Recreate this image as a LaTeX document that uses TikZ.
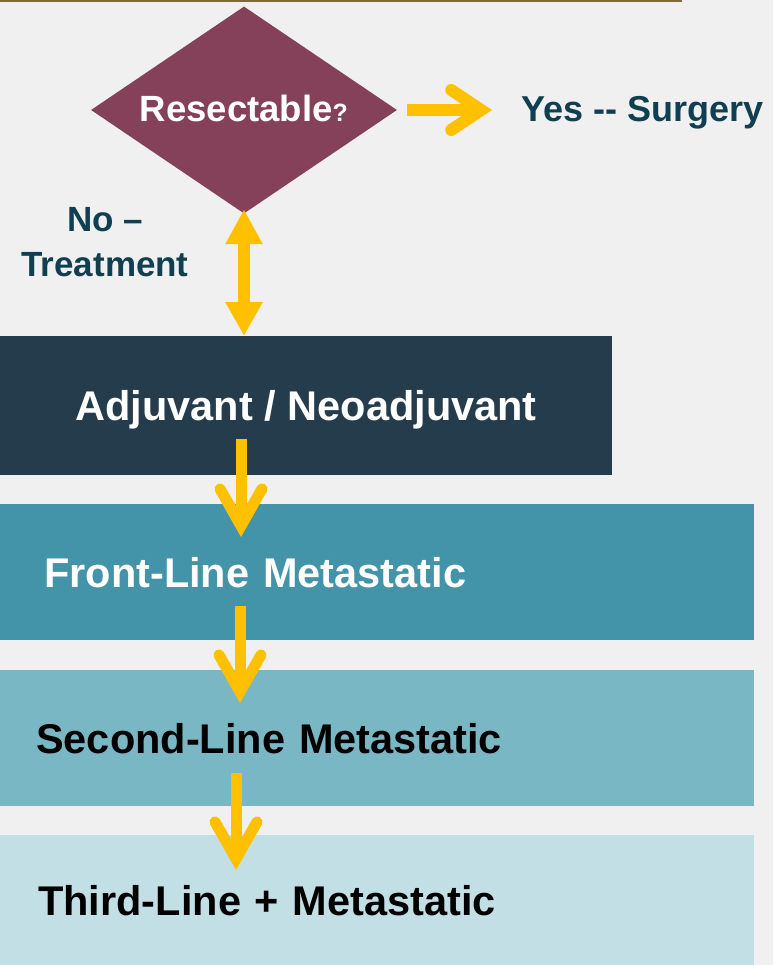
\documentclass[tikz,border=0pt]{standalone}
\usepackage{fontspec}
\setmainfont{Liberation Sans}
\usetikzlibrary{arrows.meta,shapes.geometric,calc}
\definecolor{bg}{HTML}{F0F0F0}
\definecolor{topline}{HTML}{7F6A3E}
\definecolor{plum}{HTML}{85415A}
\definecolor{boxA}{HTML}{243C4B}
\definecolor{boxB}{HTML}{4394A9}
\definecolor{boxC}{HTML}{79B7C4}
\definecolor{boxD}{HTML}{C2DFE5}
\definecolor{amber}{HTML}{FFC000}
\definecolor{darktext}{HTML}{0F3F51}
\begin{document}
\begin{tikzpicture}[x=1pt,y=-1pt,
  box/.style={rectangle, inner ysep=0pt, anchor=north west, text depth=0pt,
    font=\bfseries\fontsize{41.5}{48}\selectfont},
  leftbox/.style={box, align=left},
  yarrow/.style={draw=amber, line width=12pt,
    -{Straight Barb[length=30pt,width=40pt,line cap=round,line join=miter]}},
  varrow/.style={draw=amber, line width=11pt,
    -{Straight Barb[length=37pt,width=42pt,line cap=round,line join=miter]}},
  darrow/.style={draw=amber, line width=12pt,
    {Triangle[length=35pt,width=35pt]}-{Triangle[length=34pt,width=35pt]}},
  lbl/.style={text=darktext, font=\bfseries\fontsize{36}{45}\selectfont}]
\fill[bg] (0,0) rectangle (773,965);
\useasboundingbox (0,0) rectangle (773,965);
\draw[topline, line width=2pt] (0,1) -- (682,1);

% boxes
\node[box, fill=boxA, text=white, inner xsep=0pt, minimum width=612pt, minimum height=139pt] (b1) at (0,336) {Adjuvant / Neoadjuvant};
\node[leftbox, fill=boxB, text=white, inner xsep=44pt, text width=666pt, minimum height=136pt] (b2) at (0,504) {Front-Line Metastatic};
\node[leftbox, fill=boxC, text=black, inner xsep=36pt, text width=682pt, minimum height=136pt] (b3) at (0,670) {Second-Line Metastatic};
\node[leftbox, fill=boxD, text=black, inner xsep=38pt, text width=678pt, minimum height=130pt] (b4) at (0,835) {Third-Line + Metastatic};

% decision
\node[diamond, aspect=1.5, fill=plum, minimum width=306pt, minimum height=207pt, inner sep=0pt,
  text=white, font=\bfseries\fontsize{36.5}{40}\selectfont] (res) at (244,110)
  {\raisebox{4pt}{Resectable{\fontsize{25}{30}\selectfont ?}}};
\node[lbl, anchor=base west] (yes) at (518,122) {Yes -\kern0pt- Surgery};
\node[lbl, align=center, font=\bfseries\fontsize{35}{45}\selectfont] (no) at (105,242) {No –\hspace{12pt}\\Treatment};

% connectors
\draw[yarrow] ([xshift=10pt]res.east) -- ($(res.east -| yes.west)+(-26,0)$);
\draw[darrow] ([yshift=4.5pt]res.south) -- (res.south |- b1.north);
\coordinate (s1) at (241,439);
\coordinate (s2) at (240,606);
\coordinate (s3) at (236,773);
\draw[varrow] (s1) -- ($(s1 |- b2.north)+(0,33)$);
\draw[varrow] (s2) -- ($(s2 |- b3.north)+(0,33)$);
\draw[varrow] (s3) -- ($(s3 |- b4.north)+(0,35)$);
\end{tikzpicture}
\end{document}
